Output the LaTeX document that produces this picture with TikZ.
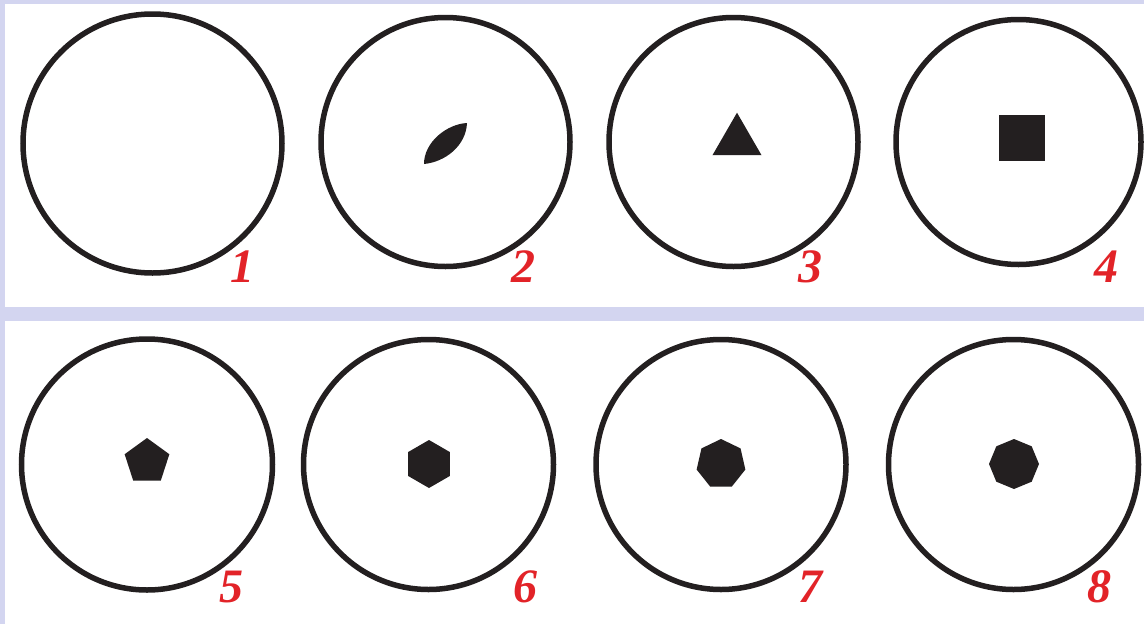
\documentclass[tikz,border=0pt]{standalone}
\usepackage{fontspec}
\setmainfont{Liberation Serif}
\newfontfamily\numfont{Liberation Serif}[UprightFont=* Bold Italic]
\usepackage{tikz}
\usetikzlibrary{shapes.geometric}
\definecolor{frame}{RGB}{211, 213, 240}
\definecolor{ink}{RGB}{35, 31, 32}
\definecolor{digit}{RGB}{226, 35, 40}

\begin{document}
\begin{tikzpicture}[
    x=1pt, y=-1pt,
    disc/.style={circle, draw=ink, line width=5.5pt, minimum size=#1, inner sep=0pt},
    poly/.style={regular polygon, regular polygon sides=#1, fill=ink, inner sep=0pt},
    numlabel/.style={anchor=base, text=digit, inner sep=0pt, font=\numfont\fontsize{48}{48}\selectfont}
  ]

  % Background panels
  \fill[frame] (0,0) rectangle (1144,624);
  \fill[white] (5,4) rectangle (1144,307);
  \fill[white] (5,321) rectangle (1144,624);
  \useasboundingbox (0,0) rectangle (1144,624);

  % Top row
  \node[disc=259pt] (c1) at (152.5,143.5) {};
  \node[disc=249pt] (c2) at (445.5,142) {};
  \node[disc=249pt] (c3) at (733.5,142) {};
  \node[disc=245pt] (c4) at (1018.5,142) {};

  % Bottom row
  \node[disc=251pt] (c5) at (147,464.5) {};
  \node[disc=250pt] (c6) at (428.5,464.5) {};
  \node[disc=250pt] (c7) at (721,464.5) {};
  \node[disc=250pt] (c8) at (1013.5,464.5) {};

  % Shapes inside
  \fill[ink] (424,164) .. controls (424,142) and (447,124) .. (467,123)
    .. controls (466,146) and (445,162) .. (424,164);
  \node[poly=3, minimum size=56.6pt] (tri) at (737,141) {};
  \node[rectangle, fill=ink, minimum size=46pt, inner sep=0pt] (sq) at (1022,138) {};
  \node[poly=5, minimum size=47pt] (pent) at (147,461.5) {};
  \node[poly=6, minimum size=48pt, rotate=30] (hex) at (429,464) {};
  \node[poly=7, minimum size=50pt] (hept) at (721,464) {};
  \node[poly=8, minimum size=50pt, rotate=22.5] (oct) at (1014,464) {};

  % Numbers
  \node[numlabel] (n1) at (242,282) {1};
  \node[numlabel] (n2) at (523,282) {2};
  \node[numlabel] (n3) at (810,282) {3};
  \node[numlabel] (n4) at (1106,282) {4};
  \node[numlabel] (n5) at (231,602) {5};
  \node[numlabel] (n6) at (525,602) {6};
  \node[numlabel] (n7) at (810,602) {7};
  \node[numlabel] (n8) at (1099,602) {8};

\end{tikzpicture}
\end{document}
